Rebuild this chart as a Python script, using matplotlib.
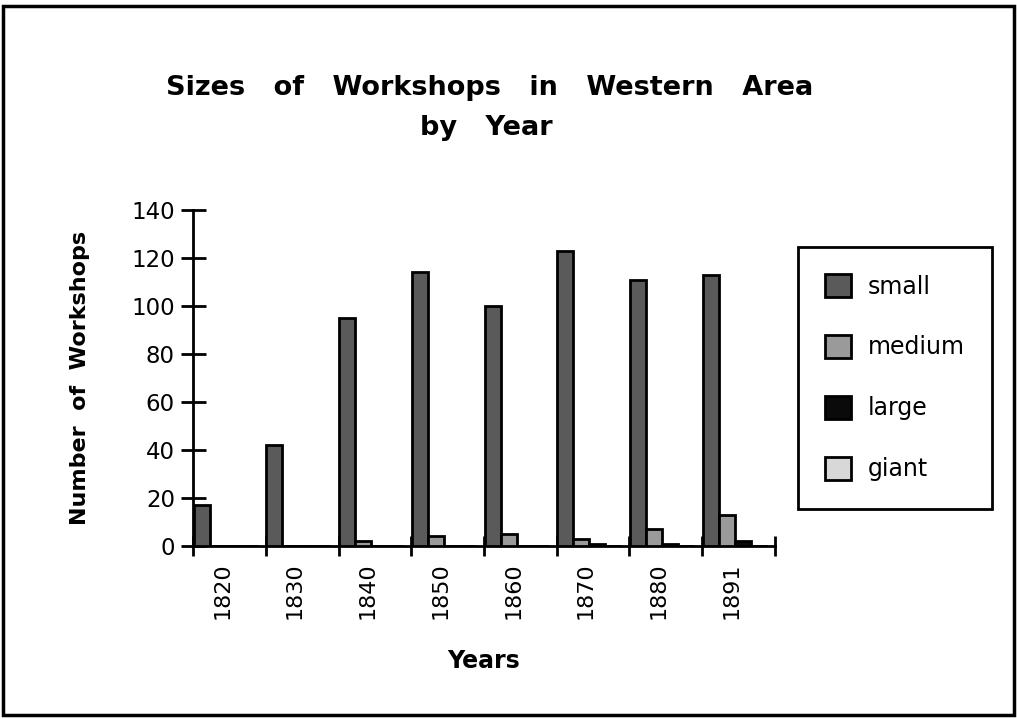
import matplotlib
matplotlib.use("Agg")
import matplotlib.pyplot as plt
from matplotlib.patches import Rectangle
import numpy as np

years = ["1820", "1830", "1840", "1850", "1860", "1870", "1880", "1891"]
small = [17, 42, 95, 114, 100, 123, 111, 113]
medium = [0, 0, 2, 4, 5, 3, 7, 13]
large = [0, 0, 0, 0, 0, 1, 1, 2]
giant = [0, 0, 0, 0, 0, 0, 0, 0]
series_names = ["small", "medium", "large", "giant"]
yticks = [0, 20, 40, 60, 80, 100, 120, 140]

plt.rcParams['font.family'] = ['DejaVu Sans']

fig = plt.figure(figsize=(10.17, 7.19), dpi=100)
fig.patch.set_facecolor("white")
ax = fig.add_axes([193/1017, (719-546)/719, (775-193)/1017, (546-210)/719])

colors = ["#5a5a5a", "#9a9a9a", "#0a0a0a", "#d8d8d8"]
bw = 0.22
x = np.arange(len(years))
for i, (vals, c, name) in enumerate(zip([small, medium, large, giant], colors, series_names)):
    ax.bar(x + 0.01 + i * bw, vals, width=bw, align="edge", color=c,
           edgecolor="black", linewidth=2, label=name, zorder=3)

ax.set_xlim(0, len(years))
ax.set_ylim(0, 140)
ax.set_yticks(yticks)
ax.set_yticklabels([str(v) for v in yticks], fontsize=16.5)
ax.set_xticks(np.arange(len(years) + 1))
ax.set_xticklabels([])
ax.set_xticks(x + 0.4, minor=True)
ax.set_xticklabels(years, minor=True, rotation=90, fontsize=16)
ax.tick_params(axis="x", which="major", direction="inout", length=14, width=2)
ax.tick_params(axis="x", which="minor", length=0, pad=12)
ax.tick_params(axis="y", direction="inout", length=18, width=2, pad=4)
for s in ["top", "right"]:
    ax.spines[s].set_visible(False)
for s in ["left", "bottom"]:
    ax.spines[s].set_linewidth(2)
ax.set_facecolor("white")

ax.set_ylabel("Number  of  Workshops", fontsize=16, fontweight="bold", labelpad=30)
ax.set_xlabel("Years", fontsize=17, fontweight="bold", labelpad=21)

fig.text(490/1017, 1 - 88/719, "Sizes   of   Workshops   in   Western   Area", ha="center",
         va="center", fontsize=19.5, fontweight="bold")
fig.text(486/1017, 1 - 128/719, "by   Year", ha="center", va="center",
         fontsize=19.5, fontweight="bold")

leg = fig.legend(loc="upper left", bbox_to_anchor=(798/1017, 1 - 247/719),
                 frameon=True, fancybox=False, fontsize=17, labelspacing=1.55,
                 handlelength=1.1, handleheight=1.1, borderpad=1.15,
                 handletextpad=0.7, borderaxespad=0, framealpha=1)
leg.get_frame().set_edgecolor("black")
leg.get_frame().set_linewidth(2)

fig.patches.append(Rectangle((3/1017, 4/719), 1 - 6/1017, 1 - 10/719,
                             transform=fig.transFigure, fill=False,
                             edgecolor="black", linewidth=2.5))

fig.savefig("out.png", dpi=100, facecolor="white")
